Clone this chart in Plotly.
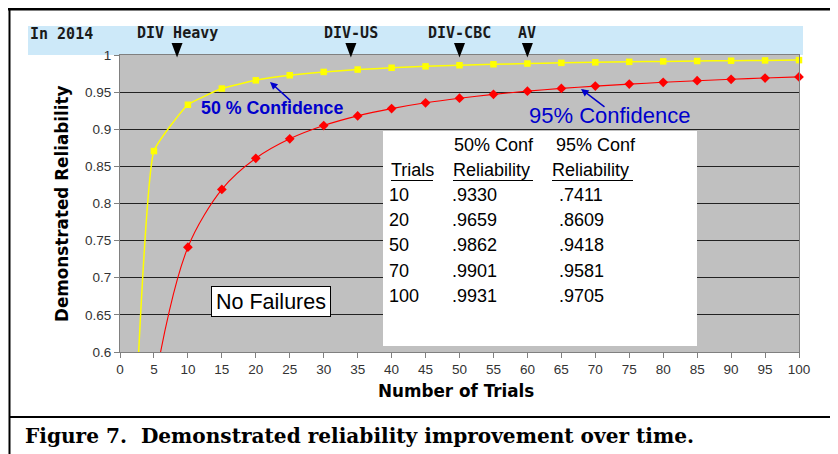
import plotly.graph_objects as go

# ---------------- data ----------------
trials = [0, 5, 10, 15, 20, 25, 30, 35, 40, 45, 50, 55, 60, 65, 70, 75, 80, 85, 90, 95, 100]
rel_50 = [0.0, 0.8706, 0.9330, 0.9548, 0.9659, 0.9727, 0.9772, 0.9804, 0.9828, 0.9847, 0.9862,
          0.9875, 0.9885, 0.9894, 0.9901, 0.9908, 0.9914, 0.9919, 0.9923, 0.9927, 0.9931]
rel_95 = [0.0, 0.5493, 0.7411, 0.8190, 0.8609, 0.8871, 0.9050, 0.9180, 0.9278, 0.9356, 0.9418,
          0.9470, 0.9513, 0.9550, 0.9581, 0.9608, 0.9632, 0.9654, 0.9673, 0.9690, 0.9705]
table_trials = [10, 20, 50, 70, 100]
milestone_names = ["DIV Heavy", "DIV-US", "DIV-CBC", "AV"]
milestone_trials = [8.4, 34, 50, 60]
x_ticks = [0, 5, 10, 15, 20, 25, 30, 35, 40, 45, 50, 55, 60, 65, 70, 75, 80, 85, 90, 95, 100]
y_ticks = [0.6, 0.65, 0.7, 0.75, 0.8, 0.85, 0.9, 0.95, 1.0]
Y_MIN, Y_MAX = 0.6, 1.0

# ---------------- geometry (page pixels) ----------------
OFF = 8                      # default body margin of the html page
FIG_W, FIG_H = 838 - OFF, 454 - OFF
PL, PR, PT, PB = 120, 799, 55, 352   # plot area in page pixels
X_PER_UNIT = (PR - PL) / 100.0


def xp(x):
    return (x - PL) / (PR - PL)


def yp(y):
    return (PB - y) / (PB - PT)


fig = go.Figure()

# 50 % confidence (yellow)
fig.add_trace(go.Scatter(x=trials, y=rel_50, mode="lines",
                         line=dict(color="#FFFF00", width=1.5, shape="spline", smoothing=0.35),
                         hoverinfo="skip", showlegend=False))
m50 = [(t, v) for t, v in zip(trials, rel_50) if Y_MIN <= v <= Y_MAX]
fig.add_trace(go.Scatter(x=[t for t, _ in m50], y=[v for _, v in m50], mode="markers",
                         marker=dict(symbol="square", size=6.5, color="#FFFF00", line=dict(width=0)),
                         cliponaxis=False, hoverinfo="skip", showlegend=False))

# 95 % confidence (red)
fig.add_trace(go.Scatter(x=trials, y=rel_95, mode="lines",
                         line=dict(color="#FF0000", width=1.1, shape="spline", smoothing=0.85),
                         hoverinfo="skip", showlegend=False))
m95 = [(t, v) for t, v in zip(trials, rel_95) if Y_MIN <= v <= Y_MAX]
fig.add_trace(go.Scatter(x=[t for t, _ in m95], y=[v for _, v in m95], mode="markers",
                         marker=dict(symbol="diamond", size=7.5, color="#FF0000", line=dict(width=0)),
                         cliponaxis=False, hoverinfo="skip", showlegend=False))

tick_font = dict(family="Liberation Sans, Arial", size=13.5, color="#333333")

fig.update_layout(
    width=FIG_W, height=FIG_H, autosize=False,
    margin=dict(l=PL - OFF, r=FIG_W - (PR - OFF), t=PT - OFF, b=FIG_H - (PB - OFF), pad=0),
    paper_bgcolor="white", plot_bgcolor="#C0C0C0",
    xaxis=dict(range=[0, 100], tickvals=x_ticks, ticks="outside", ticklen=5,
               tickcolor="#808080", showline=True, linecolor="#808080", linewidth=1,
               mirror=True, showgrid=False, zeroline=False, tickfont=tick_font),
    yaxis=dict(range=[Y_MIN, Y_MAX], tickvals=y_ticks, ticks="outside", ticklen=5,
               tickcolor="#808080", showline=True, linecolor="#808080", linewidth=1,
               mirror=True, showgrid=True, gridcolor="#222222", gridwidth=1,
               zeroline=False, tickfont=tick_font),
)

shapes = []
# light-blue milestone band
shapes.append(dict(type="rect", xref="paper", yref="paper", x0=xp(28), x1=xp(803),
                   y0=yp(55), y1=yp(26), fillcolor="#CDE9F9", line=dict(width=0), layer="below"))
# milestone triangles
half = 5.5 / X_PER_UNIT
for t in milestone_trials:
    path = (f"M {t - half},{yp(43)} L {t + half},{yp(43)} L {t},{yp(57.5)} Z")
    shapes.append(dict(type="path", xref="x", yref="paper", path=path,
                       fillcolor="black", line=dict(width=0), layer="above"))
# table box
shapes.append(dict(type="rect", xref="paper", yref="paper", x0=xp(383), x1=xp(697),
                   y0=yp(346), y1=yp(131), fillcolor="white", line=dict(width=0), layer="above"))
# table header underlines
for x0, x1 in [(391, 433), (453, 533), (552, 633)]:
    shapes.append(dict(type="line", xref="paper", yref="paper", x0=xp(x0), x1=xp(x1),
                       y0=yp(180.5), y1=yp(180.5), line=dict(color="black", width=1.2)))
# frame lines
shapes.append(dict(type="line", xref="paper", yref="paper", x0=xp(8), x1=xp(845),
                   y0=yp(9), y1=yp(9), line=dict(color="black", width=3)))
shapes.append(dict(type="line", xref="paper", yref="paper", x0=xp(9.5), x1=xp(9.5),
                   y0=yp(8), y1=yp(460), line=dict(color="black", width=2)))
shapes.append(dict(type="line", xref="paper", yref="paper", x0=xp(9), x1=xp(845),
                   y0=yp(417), y1=yp(417), line=dict(color="black", width=2)))
fig.update_layout(shapes=shapes)

ann = []
mono = dict(family="DejaVu Sans Mono", size=15, color="#1a1a1a")
ann.append(dict(x=xp(28), y=yp(34), xref="paper", yref="paper", xanchor="left", yanchor="middle",
                text="<b>In 2014</b>", showarrow=False, font=mono))
for name, t in zip(milestone_names, milestone_trials):
    ann.append(dict(x=t, y=yp(33), xref="x", yref="paper", xanchor="center", yanchor="middle",
                    text="<b>" + name + "</b>", showarrow=False, font=mono))

# axis titles
title_font = dict(family="DejaVu Sans", size=16.8, color="black")
ann.append(dict(x=xp(62), y=yp(204), xref="paper", yref="paper", xanchor="center", yanchor="middle",
                text="<b>Demonstrated Reliability</b>", textangle=-90, showarrow=False, font=title_font))
ann.append(dict(x=xp(456), y=yp(391), xref="paper", yref="paper", xanchor="center", yanchor="middle",
                text="<b>Number of Trials</b>", showarrow=False, font=title_font))

# confidence labels and arrows
blue = "#0000CC"
ann.append(dict(x=xp(199), y=yp(108), xref="paper", yref="paper", xanchor="left", yanchor="middle",
                text="<b>50 % Confidence</b>", showarrow=False,
                font=dict(family="Liberation Sans, Arial", size=17.8, color=blue)))
ann.append(dict(x=xp(270), y=yp(82), xref="paper", yref="paper", text="", showarrow=True,
                ax=22, ay=20, arrowhead=2, arrowsize=1, arrowwidth=1.5, arrowcolor=blue))
ann.append(dict(x=xp(527), y=yp(116), xref="paper", yref="paper", xanchor="left", yanchor="middle",
                text="95% Confidence", showarrow=False,
                font=dict(family="Liberation Sans, Arial", size=22, color=blue)))
ann.append(dict(x=xp(581), y=yp(89), xref="paper", yref="paper", text="", showarrow=True,
                ax=25, ay=19, arrowhead=2, arrowsize=1, arrowwidth=1.5, arrowcolor=blue))

# table text
tf = dict(family="Liberation Sans, Arial", size=18, color="black")


def tx(x, y, s):
    ann.append(dict(x=xp(x), y=yp(y), xref="paper", yref="paper", xanchor="left", yanchor="middle",
                    text=s, showarrow=False, font=tf))


tx(452, 145, "50% Conf")
tx(554, 145, "95% Conf")
tx(389, 170, "Trials")
tx(451, 170, "Reliability")
tx(550, 170, "Reliability")
row_y = [195, 220, 245, 271, 296]
for ry, n in zip(row_y, table_trials):
    i = trials.index(n)
    tx(387, ry, str(n))
    tx(450, ry, f"{rel_50[i]:.4f}"[1:])
    tx(557, ry, f"{rel_95[i]:.4f}"[1:])

# No Failures box
ann.append(dict(x=xp(271), y=yp(301.5), xref="paper", yref="paper", xanchor="center", yanchor="middle",
                text="No Failures", showarrow=False, width=116, height=27,
                bgcolor="white", bordercolor="black", borderwidth=1, borderpad=1,
                font=dict(family="Liberation Sans, Arial", size=21.5, color="black")))

# caption
ann.append(dict(x=xp(23), y=yp(436), xref="paper", yref="paper", xanchor="left", yanchor="middle",
                text="<b>Figure 7.\u00a0 Demonstrated reliability improvement over time.</b>",
                showarrow=False, font=dict(family="DejaVu Serif", size=20.1, color="black")))

fig.update_layout(annotations=ann)
fig.write_html("out.html")
